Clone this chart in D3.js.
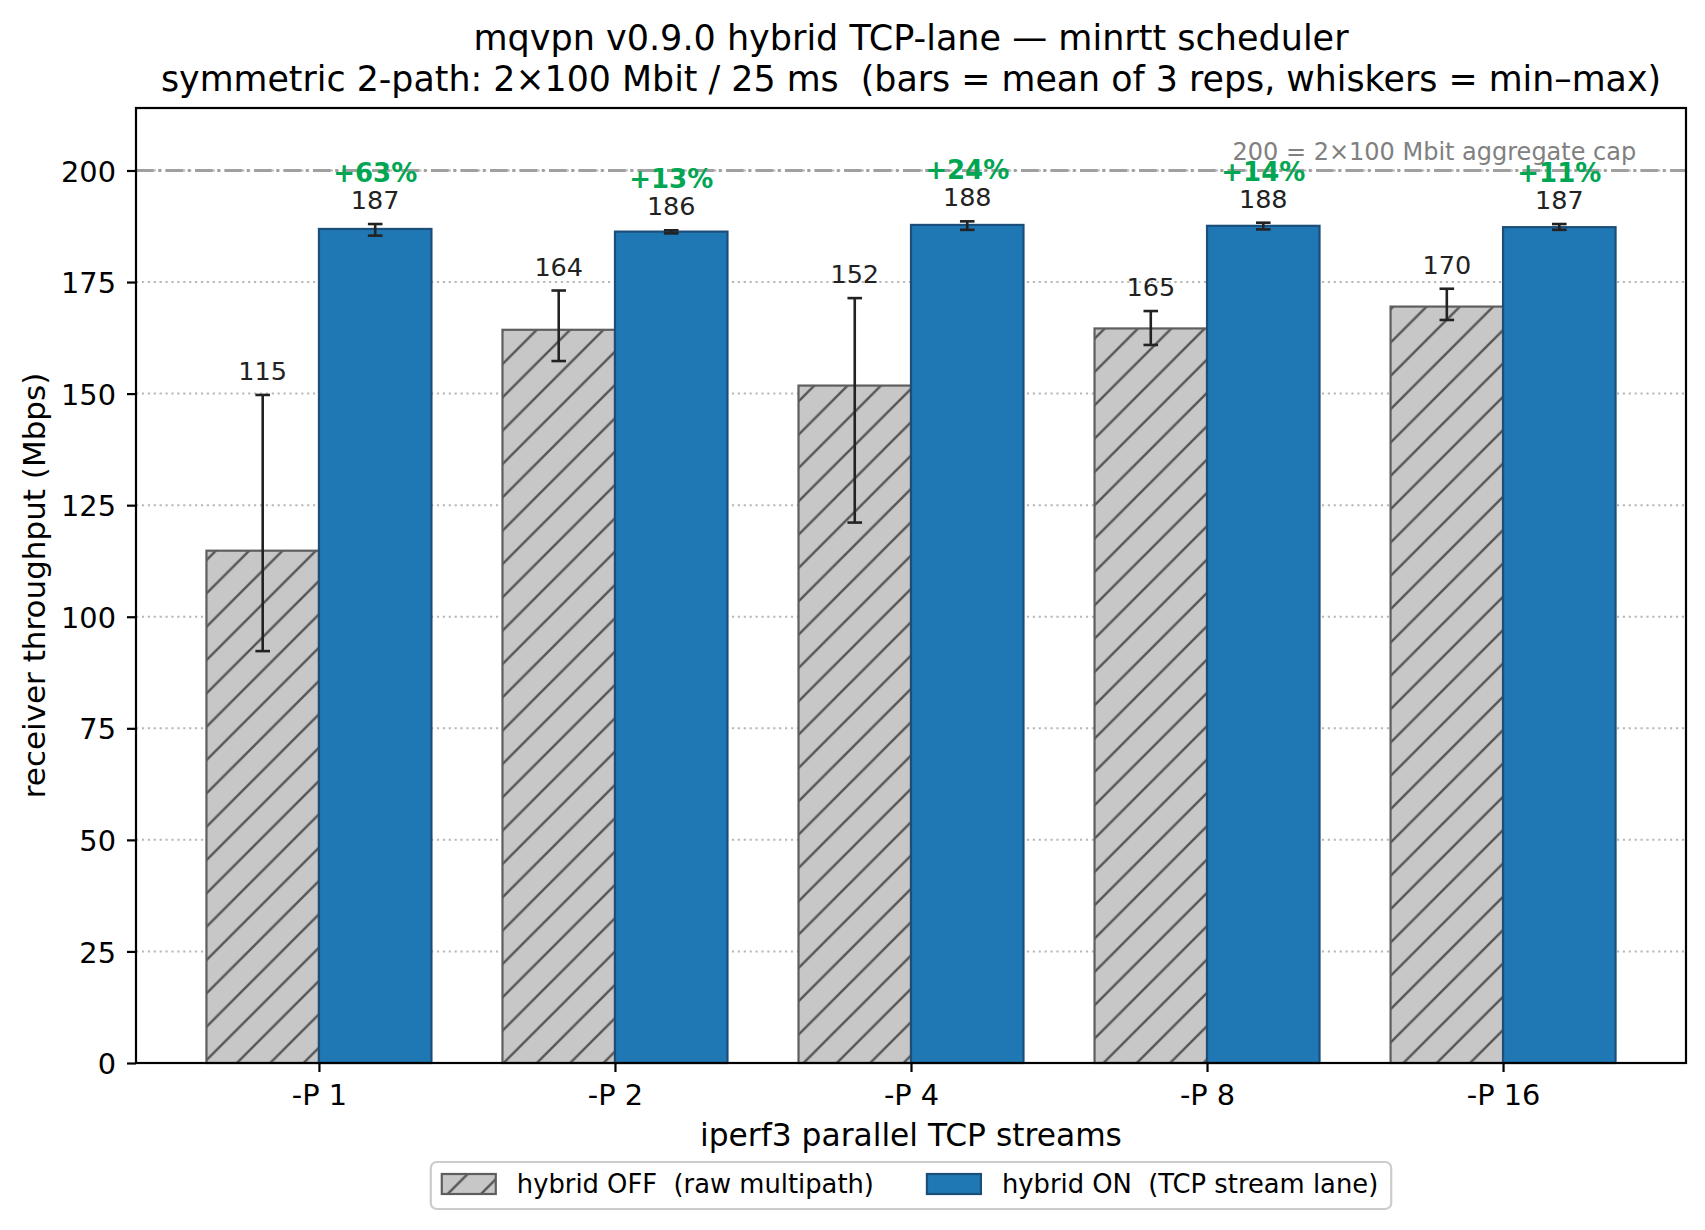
<!DOCTYPE html>
<head>
    <style>
        body { margin: 0; background: #fff; }
        svg text { font-family: "DejaVu Sans", sans-serif; }
    </style>
</head>
<body>
    <script src="https://cdn.jsdelivr.net/npm/d3@7"></script>
    <script>
        const width = 1705;
        const height = 1230;
        const plot = {left: 136, right: 1686, top: 108, bottom: 1063};

        // data
        const streams = ["-P 1", "-P 2", "-P 4", "-P 8", "-P 16"];
        const offMean = [114.8, 164.3, 151.8, 164.6, 169.5];
        const offMin = [92.3, 157.3, 121.1, 160.9, 166.5];
        const offMax = [149.7, 173.1, 171.4, 168.5, 173.5];
        const onMean = [186.9, 186.3, 187.8, 187.6, 187.3];
        const onMin = [185.4, 185.9, 186.7, 186.8, 186.7];
        const onMax = [188.0, 186.6, 188.6, 188.3, 188.0];
        const gainLabels = ["+63%", "+13%", "+24%", "+14%", "+11%"];
        const yTicks = [0, 25, 50, 75, 100, 125, 150, 175, 200];
        const capValue = 200;
        const series = [
            {name: "hybrid OFF  (raw multipath)", mean: offMean, min: offMin, max: offMax, shift: -0.19},
            {name: "hybrid ON  (TCP stream lane)", mean: onMean, min: onMin, max: onMax, shift: 0.19}
        ];
        const barW = 0.38;

        const svg = d3.select("body").append("svg")
            .attr("width", width).attr("height", height);

        // hatch for the OFF bars
        const hs = 33.33;
        const pat = svg.append("defs").append("pattern")
            .attr("id", "hatch").attr("patternUnits", "userSpaceOnUse")
            .attr("width", hs).attr("height", hs);
        pat.append("rect").attr("width", hs).attr("height", hs).attr("fill", "#c7c7c7");
        pat.append("path")
            .attr("d", `M0,${hs} L${hs},0 M${-hs/4},${hs/4} L${hs/4},${-hs/4} M${hs*3/4},${hs*5/4} L${hs*5/4},${hs*3/4}`)
            .attr("stroke", "#555").attr("stroke-width", 2.4);

        const x = d3.scaleLinear().domain([-0.618, 4.618]).range([plot.left, plot.right]);
        const y = d3.scaleLinear().domain([0, 214]).range([plot.bottom, plot.top]);

        // grid
        svg.append("g").selectAll("line").data(yTicks).enter().append("line")
            .attr("x1", plot.left).attr("x2", plot.right)
            .attr("y1", d => y(d)).attr("y2", d => y(d))
            .attr("stroke", "#b8b8b8").attr("stroke-width", 2)
            .attr("stroke-dasharray", "2.2,3.7");

        // bars
        series.forEach((s, k) => {
            svg.append("g").selectAll("rect").data(s.mean).enter().append("rect")
                .attr("x", (d, i) => x(i + s.shift - barW / 2))
                .attr("width", x(barW) - x(0))
                .attr("y", d => y(d))
                .attr("height", d => y(0) - y(d))
                .attr("fill", k == 0 ? "url(#hatch)" : "#1f77b4")
                .attr("stroke", k == 0 ? "#5e5e5e" : "#1b4f7a")
                .attr("stroke-width", 2.2);
        });

        // cap line
        svg.append("line")
            .attr("x1", plot.left).attr("x2", plot.right)
            .attr("y1", y(capValue)).attr("y2", y(capValue))
            .attr("stroke", "#a0a0a0").attr("stroke-width", 2.8)
            .attr("stroke-dasharray", "17.8,4.45,2.8,4.45");
        svg.append("text")
            .attr("x", x(4.45)).attr("y", y(201) - 6)
            .attr("text-anchor", "end").attr("font-size", 24).attr("fill", "#808080")
            .text("200 = 2×100 Mbit aggregate cap");

        // whiskers + value labels
        series.forEach(s => {
            const g = svg.append("g").attr("stroke", "#222").attr("stroke-width", 2.6);
            s.mean.forEach((m, i) => {
                const cx = x(i + s.shift);
                g.append("line").attr("x1", cx).attr("x2", cx).attr("y1", y(s.min[i])).attr("y2", y(s.max[i]));
                g.append("line").attr("x1", cx - 7.3).attr("x2", cx + 7.3).attr("y1", y(s.min[i])).attr("y2", y(s.min[i]));
                g.append("line").attr("x1", cx - 7.3).attr("x2", cx + 7.3).attr("y1", y(s.max[i])).attr("y2", y(s.max[i]));
            });
            svg.append("g").selectAll("text").data(s.mean).enter().append("text")
                .attr("x", (d, i) => x(i + s.shift))
                .attr("y", (d, i) => y(s.max[i]) - 15)
                .attr("text-anchor", "middle").attr("font-size", 25.5).attr("fill", "#222")
                .text(d => Math.round(d));
        });

        svg.append("g").selectAll("text").data(gainLabels).enter().append("text")
            .attr("x", (d, i) => x(i + 0.19))
            .attr("y", (d, i) => y(onMax[i]) - 42)
            .attr("text-anchor", "middle").attr("font-size", 26).attr("font-weight", "bold")
            .attr("fill", "#00a651")
            .text(d => d);

        // axes
        const yAxis = svg.append("g").attr("transform", `translate(${plot.left},0)`)
            .call(d3.axisLeft(y).tickValues(yTicks).tickSize(9).tickPadding(11));
        const xAxis = svg.append("g").attr("transform", `translate(0,${plot.bottom})`)
            .call(d3.axisBottom(x).tickValues(d3.range(streams.length)).tickFormat(i => streams[i]).tickSize(9).tickPadding(12));
        [yAxis, xAxis].forEach(a => {
            a.select(".domain").remove();
            a.selectAll("line").attr("stroke", "#000").attr("stroke-width", 2.2);
            a.selectAll("text").attr("font-size", 28.8).attr("fill", "#000").attr("font-family", "DejaVu Sans");
        });
        yAxis.selectAll("text").attr("dy", "0.37em");
        xAxis.selectAll("text").attr("dy", "0.74em");

        svg.append("rect")
            .attr("x", plot.left).attr("y", plot.top)
            .attr("width", plot.right - plot.left).attr("height", plot.bottom - plot.top)
            .attr("fill", "none").attr("stroke", "#000").attr("stroke-width", 2.2);

        // titles
        const cx = (plot.left + plot.right) / 2;
        svg.append("text").attr("x", cx).attr("y", 49.5).attr("text-anchor", "middle").attr("font-size", 35)
            .text("mqvpn v0.9.0 hybrid TCP-lane — minrtt scheduler");
        svg.append("text").attr("x", cx).attr("y", 91).attr("text-anchor", "middle").attr("font-size", 34.8)
            .text("symmetric 2-path: 2×100 Mbit / 25 ms  (bars = mean of 3 reps, whiskers = min–max)")
            .style("white-space", "pre");
        svg.append("text").attr("x", cx).attr("y", 1146).attr("text-anchor", "middle").attr("font-size", 31.3)
            .text("iperf3 parallel TCP streams");
        svg.append("text").attr("transform", `translate(45,${(plot.top + plot.bottom) / 2}) rotate(-90)`)
            .attr("text-anchor", "middle").attr("font-size", 31)
            .text("receiver throughput (Mbps)");

        // legend
        const leg = svg.append("g");
        const box = leg.append("rect").attr("rx", 6).attr("fill", "#fff").attr("fill-opacity", 0.8)
            .attr("stroke", "#cccccc").attr("stroke-width", 2.2);
        let lx = 0;
        series.forEach((s, k) => {
            const it = leg.append("g");
            it.append("rect").attr("x", lx).attr("y", 1174).attr("width", 54).attr("height", 20)
                .attr("fill", k == 0 ? "url(#hatch)" : "#1f77b4")
                .attr("stroke", k == 0 ? "#5e5e5e" : "#1b4f7a").attr("stroke-width", 2.2);
            const t = it.append("text").attr("x", lx + 75).attr("y", 1193).attr("font-size", 25.8)
                .style("white-space", "pre").text(s.name);
            lx += 75 + t.node().getComputedTextLength() + 53;
        });
        const legW = lx - 53 + 24;
        const legLeft = cx - legW / 2;
        leg.selectAll("g").attr("transform", `translate(${legLeft + 11},0)`);
        box.attr("x", legLeft).attr("y", 1162).attr("width", legW).attr("height", 47);
    </script>
</body>
</html>
